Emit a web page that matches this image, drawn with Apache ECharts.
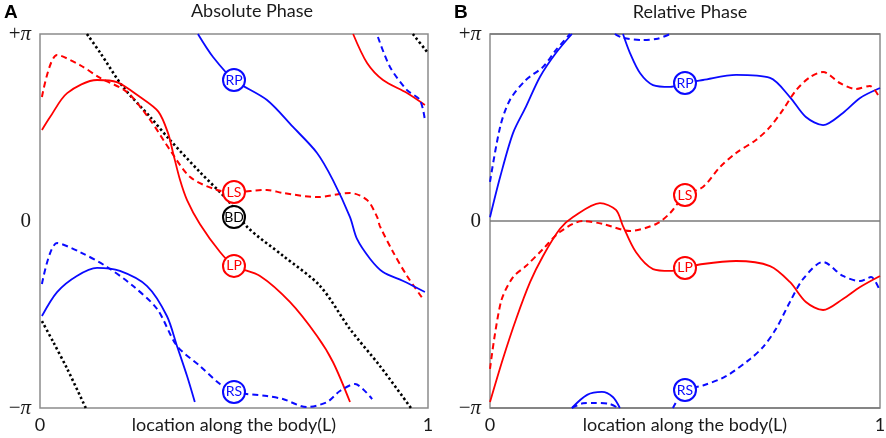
<!DOCTYPE html>
<html>
<head>
<meta charset="utf-8">
<script src="https://cdn.jsdelivr.net/npm/echarts@6/dist/echarts.min.js"></script>
<style>
  html, body { margin: 0; padding: 0; background: #fff; }
  #chart { width: 886px; height: 438px; }
</style>
</head>
<body>
<div id="chart"></div>
<script>
// phase values are in units of pi; null marks a wrap from -pi to +pi
const RED = '#ff0000'
const BLUE = '#0a0aff'

const xTicks = ['0', '1']
const titles = ['Absolute Phase', 'Relative Phase']
const panelTags = ['A', 'B']
const xName = 'location along the body(L)'

// --- A: absolute phase ---
const absBD = [
  [0.005, -0.535], [0.034, -0.647], [0.07, -0.79], [0.118, -1], null,
  [0.121, 1], [0.155, 0.9], [0.214, 0.717], [0.284, 0.556], [0.335, 0.433], [0.412, 0.262],
  [0.49, 0.096], [0.534, -0.032], [0.627, -0.187], [0.722, -0.348], [0.799, -0.578],
  [0.876, -0.775], [0.956, -1], null,
  [0.961, 1], [1, 0.898],
]
const absLP = [
  [0.005, 0.487], [0.026, 0.556], [0.07, 0.684], [0.147, 0.754], [0.198, 0.743], [0.258, 0.663],
  [0.305, 0.585], [0.33, 0.47], [0.343, 0.364], [0.361, 0.219], [0.379, 0.112], [0.412, -0.016],
  [0.464, -0.166], [0.5, -0.24], [0.567, -0.294], [0.644, -0.433], [0.714, -0.615],
  [0.755, -0.754], [0.799, -0.968], null,
  [0.807, 1], [0.843, 0.845], [0.884, 0.754], [0.946, 0.684], [0.992, 0.62],
]
const absLS = [
  [0.005, 0.663], [0.044, 0.888], [0.103, 0.834], [0.155, 0.765], [0.224, 0.69], [0.284, 0.54],
  [0.335, 0.38], [0.387, 0.235], [0.456, 0.166], [0.5, 0.155], [0.585, 0.166], [0.626, 0.15],
  [0.714, 0.128], [0.799, 0.15], [0.843, 0.112], [0.869, 0.021], [0.876, -0.027],
  [0.91, -0.166], [0.946, -0.294], [0.987, -0.417],
]
const absRP = [
  [0.005, -0.508], [0.044, -0.38], [0.095, -0.294], [0.147, -0.251], [0.206, -0.267],
  [0.276, -0.348], [0.327, -0.508], [0.353, -0.668], [0.379, -0.829], [0.399, -0.968], null,
  [0.407, 1], [0.446, 0.877], [0.5, 0.754], [0.585, 0.647], [0.652, 0.503], [0.714, 0.364],
  [0.755, 0.219], [0.799, 0.021], [0.817, -0.096], [0.851, -0.203], [0.884, -0.273],
  [0.936, -0.321], [0.992, -0.38],
]
const absRS = [
  [0.005, -0.337], [0.044, -0.118], [0.103, -0.166], [0.173, -0.246], [0.24, -0.348],
  [0.302, -0.471], [0.353, -0.668], [0.412, -0.775], [0.464, -0.872], [0.5, -0.914],
  [0.585, -0.936], [0.626, -0.952], [0.688, -0.995], [0.74, -0.968], [0.773, -0.909],
  [0.812, -0.872], [0.832, -0.898], [0.856, -0.952], null,
  [0.871, 0.984], [0.902, 0.824], [0.946, 0.7], [0.979, 0.647], [0.992, 0.54],
]
const absTags = ['RP', 'LS', 'BD', 'LP', 'RS']
const absTagY = [0.754, 0.155, 0.021, -0.24, -0.914]

// --- B: relative phase ---
const relRP = [
  [0, 0.02], [0.026, 0.235], [0.059, 0.47], [0.092, 0.61], [0.128, 0.77], [0.169, 0.898], [0.21, 1], null,
  [0.21, -1], [0.249, -0.93], [0.287, -0.914], [0.315, -0.941], [0.333, -1], null,
  [0.341, 1], [0.359, 0.898], [0.385, 0.79], [0.418, 0.727], [0.462, 0.717], [0.5, 0.738],
  [0.546, 0.754], [0.631, 0.781], [0.718, 0.765], [0.769, 0.663], [0.81, 0.556], [0.854, 0.513],
  [0.905, 0.578], [0.949, 0.658], [1, 0.711],
]
const relRS = [
  [0, 0.209], [0.026, 0.503], [0.051, 0.647], [0.092, 0.754], [0.136, 0.824], [0.169, 0.914], [0.205, 1], null,
  [0.21, -1], [0.238, -0.975], [0.264, -0.973], [0.308, -0.979], [0.328, -1], null,
  [0.32, 1], [0.341, 0.979], [0.392, 0.968], [0.43, 0.975], [0.462, 1], null,
  [0.469, -1], [0.5, -0.904], [0.546, -0.88], [0.605, -0.83], [0.667, -0.738], [0.7, -0.674],
  [0.733, -0.578], [0.769, -0.433], [0.803, -0.31], [0.854, -0.219], [0.905, -0.294],
  [0.949, -0.321], [0.977, -0.3], [1, -0.374],
]
const relLP = [
  [0, -0.968], [0.033, -0.738], [0.067, -0.524], [0.103, -0.326], [0.136, -0.187], [0.179, -0.043],
  [0.213, 0.021], [0.282, 0.096], [0.323, 0.059], [0.341, -0.027], [0.374, -0.166], [0.418, -0.257],
  [0.462, -0.267], [0.5, -0.251], [0.546, -0.23], [0.631, -0.214], [0.718, -0.241], [0.769, -0.326],
  [0.81, -0.433], [0.854, -0.476], [0.905, -0.417], [0.949, -0.353], [1, -0.294],
]
const relLS = [
  [0, -0.791], [0.028, -0.433], [0.059, -0.3], [0.092, -0.241], [0.136, -0.15], [0.179, -0.059],
  [0.238, 0], [0.29, -0.016], [0.359, -0.053], [0.426, -0.016], [0.462, 0.043], [0.5, 0.139],
  [0.546, 0.182], [0.59, 0.289], [0.631, 0.364], [0.682, 0.433], [0.718, 0.503], [0.751, 0.594],
  [0.785, 0.7], [0.821, 0.77], [0.854, 0.797], [0.897, 0.738], [0.938, 0.706], [0.974, 0.722],
  [0.995, 0.674],
]
const relTags = ['RP', 'LS', 'LP', 'RS']
const relTagY = [0.738, 0.139, -0.251, -0.904]

const tagX = 0.5
const tagColor = { RP: BLUE, RS: BLUE, LP: RED, LS: RED, BD: '#000' }

// null -> gap in the line
const withGaps = pts => pts.map((p, i) => p || [pts[i - 1][0], '-'])

const solid = (data, color, g) => ({
  type: 'line', xAxisIndex: g, yAxisIndex: g, data: withGaps(data),
  smooth: 0.3, symbol: 'none', z: 3,
  lineStyle: { color: color, width: 1.8 },
})
const dashed = (data, color, g) => ({
  type: 'line', xAxisIndex: g, yAxisIndex: g, data: withGaps(data),
  smooth: 0.3, symbol: 'none', z: 3,
  lineStyle: { color: color, width: 2, type: [6, 4] },
})
const dotted = (data, g) => ({
  type: 'line', xAxisIndex: g, yAxisIndex: g, data: withGaps(data),
  smooth: 0.3, symbol: 'none', z: 2,
  lineStyle: { color: '#000', width: 2.6, type: [2.4, 2.6] },
})
const tags = (names, ys, g) => ({
  type: 'scatter', xAxisIndex: g, yAxisIndex: g, symbol: 'circle', symbolSize: 22, z: 10,
  data: names.map((n, i) => ({
    name: n, value: [tagX, ys[i]],
    itemStyle: { color: '#fff', borderColor: tagColor[n], borderWidth: 2, opacity: 1 },
    label: { color: tagColor[n] },
  })),
  label: {
    show: true, position: 'inside', formatter: '{b}',
    fontFamily: 'Lato', fontSize: 14, fontWeight: 'normal',
  },
})

const piLabel = v => v === 1 ? '{s|+}{p|π}' : v === -1 ? '{s|−}{p|π}' : '{s|0}'

const grids = [
  { left: 40, top: 34, width: 388, height: 374 },
  { left: 490, top: 34, width: 390, height: 374 },
]

const chart = echarts.init(document.getElementById('chart'))
chart.setOption({
  animation: false,
  backgroundColor: '#fff',
  grid: grids.map(g => Object.assign({
    show: true, borderColor: '#8c8c8c', borderWidth: 1.5, backgroundColor: 'transparent',
    containLabel: false, outerBoundsMode: 'none',
  }, g)),
  xAxis: grids.map((g, i) => ({
    type: 'value', gridIndex: i, min: 0, max: 1, interval: 1,
    axisLine: { show: false }, axisTick: { show: false }, splitLine: { show: false },
    axisLabel: {
      margin: 8, fontFamily: 'Lato', fontSize: 18, color: '#1a1a1a',
      formatter: v => xTicks[v],
    },
    name: xName, nameLocation: 'middle', nameGap: 8, nameMoveOverlap: false,
    nameTextStyle: { fontFamily: 'Lato', fontSize: 18, color: '#1a1a1a', verticalAlign: 'top' },
  })),
  yAxis: grids.map((g, i) => ({
    type: 'value', gridIndex: i, min: -1, max: 1, interval: 1,
    axisLine: { show: false }, axisTick: { show: false },
    splitLine: { show: i === 1, lineStyle: { color: '#7a7a7a', width: 1.5 } },
    axisLabel: {
      margin: 9, color: '#1a1a1a', formatter: piLabel,
      rich: {
        s: { fontFamily: 'Liberation Serif', fontSize: 21, color: '#1a1a1a' },
        p: { fontFamily: 'Liberation Serif', fontSize: 21, fontStyle: 'italic', color: '#1a1a1a' },
      },
    },
  })),
  graphic: [
    { type: 'text', left: 4, top: 3, style: { text: panelTags[0], font: 'bold 19px "Liberation Sans"', fill: '#000' } },
    { type: 'text', left: 454, top: 3, style: { text: panelTags[1], font: 'bold 19px "Liberation Sans"', fill: '#000' } },
    { type: 'text', x: 252, y: 11, style: { text: titles[0], font: '18px Lato', fill: '#1a1a1a', align: 'center', verticalAlign: 'middle' } },
    { type: 'text', x: 690, y: 12, style: { text: titles[1], font: '18px Lato', fill: '#1a1a1a', align: 'center', verticalAlign: 'middle' } },
  ],
  series: [
    dotted(absBD, 0),
    solid(absLP, RED, 0),
    dashed(absLS, RED, 0),
    solid(absRP, BLUE, 0),
    dashed(absRS, BLUE, 0),
    tags(absTags, absTagY, 0),
    solid(relRP, BLUE, 1),
    dashed(relRS, BLUE, 1),
    solid(relLP, RED, 1),
    dashed(relLS, RED, 1),
    tags(relTags, relTagY, 1),
  ],
})
</script>
</body>
</html>
